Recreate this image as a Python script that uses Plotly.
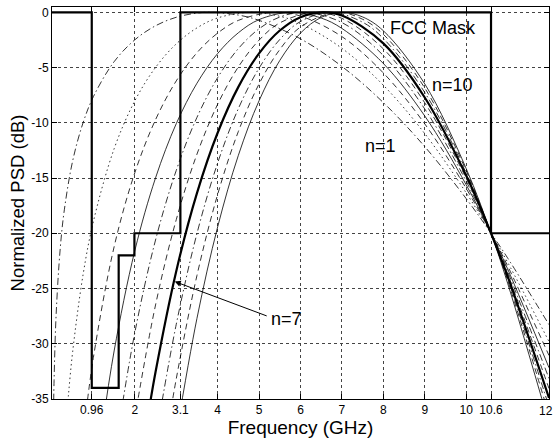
import plotly.graph_objects as go

# FCC indoor mask (normalized)
mask_freq = [0, 0.96, 0.96, 1.61, 1.61, 1.99, 1.99, 3.1, 3.1, 10.6, 10.6, 12]
mask_db = [0, 0, -34, -34, -22, -22, -20, -20, 0, 0, -20, -20]

# Normalized PSD curves for pulse derivative order n
n1_f = [0.03, 0.05, 0.1, 0.2, 0.3, 0.5, 0.75, 1, 1.5, 2, 2.5, 3, 3.5, 3.835, 4.5, 5, 6, 7, 8, 9, 10, 10.6, 11, 12]
n1_db = [-37.79, -33.35, -27.34, -21.32, -17.82, -13.43, -10.00, -7.63, -4.47, -2.49, -1.22, -0.45, -0.07, 0, -0.25, -0.73, -2.40, -4.90, -8.17, -12.16, -16.86, -20.0, -22.23, -28.27]

n2_f = [0.35, 0.4, 0.5, 0.75, 1, 1.5, 2, 2.5, 3, 3.5, 4, 4.794, 5.5, 6, 7, 8, 9, 10, 10.6, 11, 12]
n2_db = [-36.83, -34.52, -30.68, -23.75, -18.92, -12.35, -8.01, -4.99, -2.86, -1.41, -0.51, 0, -0.36, -1.02, -3.26, -6.60, -10.98, -16.34, -20.0, -22.62, -29.80]

n3_f = [0.8, 1, 1.5, 2, 2.5, 3, 3.5, 4, 4.5, 5.371, 6, 7, 8, 9, 10, 10.6, 11, 12]
n3_db = [-36.88, -31.23, -21.22, -14.52, -9.72, -6.21, -3.66, -1.88, -0.73, 0, -0.34, -2.20, -5.49, -10.10, -15.94, -20.0, -22.94, -31.06]

n4_f = [1.2, 1.5, 2, 2.5, 3, 3.5, 4, 4.5, 5, 5.778, 6.5, 7, 8, 9, 10, 10.6, 11, 12]
n4_db = [-37.98, -30.65, -21.57, -14.99, -10.08, -6.42, -3.73, -1.85, -0.66, 0, -0.52, -1.46, -4.63, -9.38, -15.61, -20.0, -23.22, -32.17]

n5_f = [1.6, 2, 2.5, 3, 3.5, 4, 4.5, 5, 5.5, 6.09, 7, 8, 9, 10, 10.6, 11, 12]
n5_db = [-37.84, -28.99, -20.61, -14.31, -9.51, -5.91, -3.28, -1.49, -0.43, 0, -0.93, -3.91, -8.75, -15.29, -20.0, -23.45, -33.14]

n6_f = [2, 2.5, 3, 3.5, 4, 4.5, 5, 5.5, 6.34, 7, 8, 9, 10, 10.6, 11, 12]
n6_db = [-36.67, -26.49, -18.77, -12.84, -8.32, -4.94, -2.52, -0.96, 0, -0.55, -3.31, -8.19, -15.02, -20.0, -23.67, -34.05]

n7_f = [2.3, 2.5, 3, 3.5, 4, 4.5, 5, 5.5, 6, 6.546, 7, 8, 9, 10, 10.6, 11, 12]
n7_db = [-36.95, -32.56, -23.43, -16.36, -10.90, -6.75, -3.72, -1.65, -0.44, 0, -0.29, -2.81, -7.71, -14.78, -20.0, -23.88, -34.91]

n8_f = [2.6, 3, 3.5, 4, 4.5, 5, 5.5, 6, 6.722, 7.5, 8, 9, 10, 10.6, 11, 12]
n8_db = [-36.46, -28.24, -20.02, -13.63, -8.71, -5.05, -2.46, -0.83, 0, -0.90, -2.37, -7.26, -14.55, -20.0, -24.07, -35.71]

n9_f = [2.8, 3, 3.5, 4, 4.5, 5, 5.5, 6, 6.874, 7.5, 8, 9, 10, 10.6, 11, 12]
n9_db = [-37.61, -33.18, -23.82, -16.48, -10.78, -6.48, -3.37, -1.33, 0, -0.63, -1.99, -6.85, -14.33, -20.0, -24.25, -36.46]

n10_f = [3, 3.5, 4, 4.5, 5, 5.5, 6, 6.5, 7.007, 7.5, 8, 9, 10, 10.6, 11, 12]
n10_db = [-38.21, -27.70, -19.42, -12.94, -8.00, -4.36, -1.88, -0.46, 0, -0.42, -1.67, -6.48, -14.14, -20.0, -24.51, -37.22]

x_ticks = [0.96, 2, 3.1, 4, 5, 6, 7, 8, 9, 10, 10.6, 12]
x_ticktext = ["0.96", "2", "3.1", "4", "5", "6", "7", "8", "9", "10", "10.6", ""]
x_last_label = "12"
y_ticks = [0, -5, -10, -15, -20, -25, -30, -35]
y_ticktext = ["0", "-5", "-10", "-15", "-20", "-25", "-30", "-35"]

DASHDOT = "7px,3px,1.5px,3px"
DOT = "1.5px,3px"
DASH = "6px,4px"

curves = [
    (n1_f, n1_db, DASHDOT, 0.8),
    (n2_f, n2_db, DOT, 0.8),
    (n3_f, n3_db, DASH, 0.8),
    (n4_f, n4_db, "solid", 0.8),
    (n5_f, n5_db, DASHDOT, 0.8),
    (n6_f, n6_db, DASH, 0.8),
    (n7_f, n7_db, "solid", 2.2),
    (n8_f, n8_db, DASHDOT, 0.8),
    (n9_f, n9_db, DASH, 0.8),
    (n10_f, n10_db, "solid", 0.8),
]

fig = go.Figure()
for fx, fy, dash, w in curves:
    fig.add_trace(go.Scatter(x=fx, y=fy, mode="lines", line_shape="spline",
                             line=dict(color="black", width=w, dash=dash),
                             showlegend=False, hoverinfo="skip"))

fig.add_trace(go.Scatter(x=mask_freq, y=mask_db, mode="lines",
                         line=dict(color="black", width=2.2),
                         showlegend=False, hoverinfo="skip"))

font_family = "Arial, Liberation Sans, Helvetica, sans-serif"

fig.add_annotation(x=2.963, y=-24.37, ax=5.22, ay=-27.53, axref="x", ayref="y",
                   xref="x", yref="y", text="", showarrow=True,
                   arrowhead=2, arrowsize=1.2, arrowwidth=1, arrowcolor="black")
fig.add_annotation(x=5.67, y=-27.74, text="n=7", showarrow=False,
                   font=dict(size=18, color="black", family=font_family))
fig.add_annotation(x=9.68, y=-6.57, text="n=10", showarrow=False,
                   font=dict(size=18, color="black", family=font_family))
fig.add_annotation(x=7.92, y=-12.14, text="n=1", showarrow=False,
                   font=dict(size=18, color="black", family=font_family))
fig.add_annotation(x=9.2, y=-1.42, text="FCC Mask", showarrow=False,
                   font=dict(size=18, color="black", family=font_family))
# last x tick label, nudged left so that it stays inside the page
fig.add_annotation(x=x_ticks[-1], xref="x", y=0, yref="paper", yanchor="top",
                   xanchor="right", xshift=6, yshift=-3, text=x_last_label,
                   showarrow=False, font=dict(size=12, color="black", family=font_family))

axis_common = dict(
    showline=True, linecolor="black", linewidth=1, mirror="ticks",
    ticks="inside", ticklen=5, tickcolor="black",
    showgrid=True, gridcolor="#444444", griddash="dot", gridwidth=1,
    zeroline=False, automargin=False,
    tickfont=dict(size=12, color="black", family=font_family),
)

fig.update_xaxes(range=[0, 12], tickmode="array", tickvals=x_ticks, ticktext=x_ticktext,
                 title=dict(text="Frequency (GHz)", font=dict(size=19, color="black", family=font_family), standoff=2),
                 **axis_common)
fig.update_yaxes(range=[-35, 0.48], tickmode="array", tickvals=y_ticks, ticktext=y_ticktext,
                 title=dict(text="Normalized PSD (dB)", font=dict(size=18.5, color="black", family=font_family), standoff=1),
                 **axis_common)

fig.update_layout(
    width=554, height=441,
    margin=dict(l=52, r=5, t=7, b=42, autoexpand=False),
    plot_bgcolor="white", paper_bgcolor="white",
    font=dict(family=font_family, color="black"),
)

fig.write_html("out.html")
